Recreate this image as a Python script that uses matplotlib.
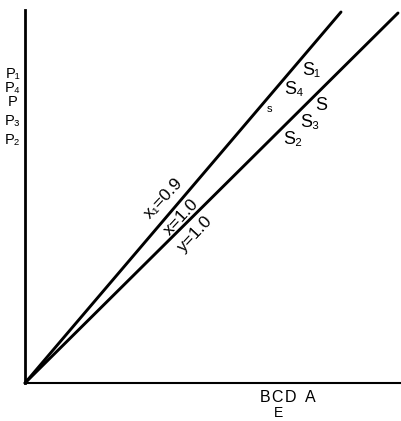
import numpy as np
import matplotlib.pyplot as plt

plt.rcParams['font.family'] = ['Liberation Sans', 'DejaVu Sans']

# two rays from the origin (end points, in chart units)
line_x = [[0, 316], [0, 373]]
line_y = [[0, 371], [0, 370]]

# curve labels along the rays
ray_labels = ['x₁=0.9', 'x=1.0', 'y=1.0']
ray_pos = [(139, 185), (156, 166), (170, 149)]

# points marked near the top of the rays
s_labels = ['S₁', 'S₄', 's', 'S', 'S₃', 'S₂']
s_pos = [(286, 313), (269, 294), (244, 274), (296, 278), (285, 261), (268, 244)]
s_size = [13, 13, 8, 13, 13, 13]

# y-axis labels
p_labels = ['P₁', 'P₄', 'P', 'P₃', 'P₂']
p_y = [309, 295, 281, 262, 243]

# x-axis labels
x_labels = ['B', 'C', 'D', 'A']
x_pos = [240, 252, 266, 285]

fig = plt.figure(figsize=(4.02, 4.21), dpi=100)
ax = fig.add_axes([25/402, 38/421, 377/402, 373/421])

for xs, ys in zip(line_x, line_y):
    ax.plot(xs, ys, color='black', lw=2.1, solid_capstyle='round', clip_on=False)

for t, (x, y) in zip(ray_labels, ray_pos):
    ax.text(x, y, t, fontsize=12.5, rotation=47, ha='center', va='center',
            rotation_mode='anchor')

for t, (x, y), fs in zip(s_labels, s_pos, s_size):
    ax.text(x, y, t, fontsize=fs, ha='center', va='center')

for t, y in zip(p_labels, p_y):
    ax.text(-12, y, t, fontsize=10.5, ha='center', va='center', clip_on=False)

for t, x in zip(x_labels, x_pos):
    ax.text(x, -15, t, fontsize=11.5, ha='center', va='center', clip_on=False)
ax.text(254, -30, 'E', fontsize=10, ha='center', va='center', clip_on=False)

ax.set_xlim(0, 377)
ax.set_ylim(0, 373)
ax.spines['top'].set_visible(False)
ax.spines['right'].set_visible(False)
ax.spines['left'].set_linewidth(2.0)
ax.spines['bottom'].set_linewidth(1.5)
ax.set_xticks([])
ax.set_yticks([])

fig.savefig('out.png', dpi=100)
